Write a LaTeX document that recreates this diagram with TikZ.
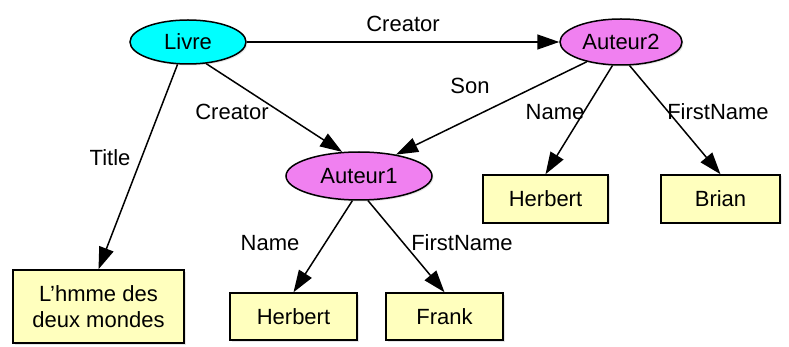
\documentclass[tikz,border=0pt]{standalone}
\usepackage{fontspec}
\setmainfont{Liberation Sans}
\usetikzlibrary{shapes.geometric, arrows.meta, shadows}

\definecolor{livrecol}{RGB}{0,255,255}
\definecolor{auteurcol}{RGB}{240,128,240}
\definecolor{valcol}{RGB}{255,255,190}

\begin{document}
\begin{tikzpicture}[x=1pt, y=-1pt,
        every node/.style={font=\fontsize{22}{25.5}\selectfont},
        res/.style={ellipse, draw, line width=1.5pt, inner sep=0pt, drop shadow={opacity=0.2, shadow xshift=1.5pt, shadow yshift=-1.5pt}},
        val/.style={rectangle, draw, line width=1.5pt, fill=valcol, align=center, inner sep=0pt, drop shadow={opacity=0.2, shadow xshift=1.5pt, shadow yshift=-1.5pt}},
        arc/.style={-{Triangle[length=22pt, width=15pt]}, line width=1.5pt}]
        \useasboundingbox (0,0) rectangle (789,347);

        % Ressources
        \node[res, fill=livrecol, minimum width=116pt, minimum height=44pt] (livre) at (188,42) {Livre};
        \node[res, fill=auteurcol, minimum width=122pt, minimum height=46pt] (auteur2) at (621,42) {Auteur2};
        \node[res, fill=auteurcol, minimum width=146pt, minimum height=48pt] (auteur1) at (359,176) {Auteur1};

        % Valeurs
        \node[val, minimum width=171pt, minimum height=73pt] (titre) at (98.5,306.5) {L'hmme des\\deux mondes};
        \node[val, minimum width=127pt, minimum height=47pt] (nom1) at (293.5,316.5) {Herbert};
        \node[val, minimum width=117pt, minimum height=47pt] (prenom1) at (444.5,316.5) {Frank};
        \node[val, minimum width=125pt, minimum height=48pt] (nom2) at (545.5,199) {Herbert};
        \node[val, minimum width=119pt, minimum height=48pt] (prenom2) at (720.5,199) {Brian};

        % Arcs
        \draw[arc] (livre) -- (auteur2) node[midway, above=6pt] {Creator};
        \draw[arc] (livre.-50) -- (auteur1.125);
        \node at (232,112) {Creator};
        \draw[arc] (livre.-115) -- (titre.north);
        \node at (110,158) {Title};
        \draw[arc] (auteur2.-150) -- (auteur1.30);
        \node at (470,86) {Son};
        \draw[arc] (auteur2.-110) -- (nom2.north);
        \node at (555,112) {Name};
        \draw[arc] (auteur2.-70) -- (prenom2.north);
        \node at (718,112) {FirstName};
        \draw[arc] (auteur1.-105) -- (nom1.north);
        \node at (270,243) {Name};
        \draw[arc] (auteur1.-70) -- (prenom1.north);
        \node at (462,243) {FirstName};
    \end{tikzpicture}
\end{document}
